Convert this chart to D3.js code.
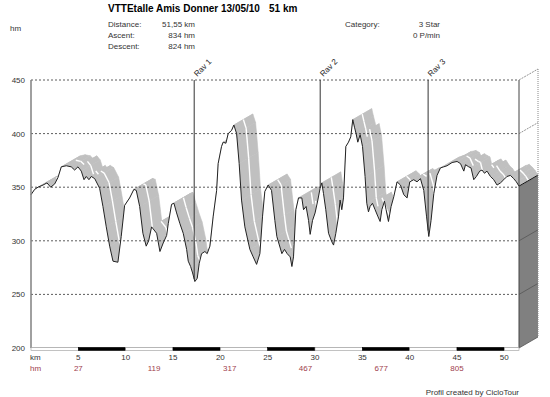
<!DOCTYPE html>
<html>
<head>
<meta charset="utf-8">
<script src="https://cdn.jsdelivr.net/npm/d3@7"></script>
<style>
  body { margin: 0; background: #fff; }
  svg { display: block; font-family: "Liberation Sans", Arial, sans-serif; }
</style>
</head>
<body>
<script>
// profile: distance (km) and altitude (m)
const km = [0, 0.39, 0.74, 1.27, 1.69, 2.08, 2.50, 2.85, 3.20, 3.73,
  4.25, 4.61, 4.96, 5.31, 5.60, 5.84, 6.12, 6.37, 6.73, 7.25,
  7.60, 7.95, 8.31, 8.66, 9.18, 9.53, 9.89, 10.42, 10.87, 11.12,
  11.48, 11.82, 12.17, 12.43, 12.74, 13.27, 13.62, 13.97, 14.33, 14.50,
  14.85, 15.10, 15.38, 15.73, 16.08, 16.44, 16.61, 16.86, 17.07, 17.31,
  17.56, 17.77, 18.02, 18.37, 18.61, 18.90, 19.25, 19.61, 19.77, 20.13,
  20.30, 20.59, 20.83, 21.19, 21.43, 21.72, 21.99, 22.24, 22.59, 23.12,
  23.47, 23.83, 24.18, 24.46, 24.70, 25.05, 25.41, 25.76, 25.97, 26.50,
  26.78, 27.06, 27.38, 27.56, 27.73, 27.98, 28.26, 28.61, 28.79, 29.06,
  29.32, 29.49, 29.74, 30.01, 30.30, 30.54, 30.72, 30.90, 31.14, 31.43,
  31.78, 31.96, 32.20, 32.49, 32.65, 32.83, 33.01, 33.26, 33.54, 33.78,
  33.99, 34.17, 34.34, 34.52, 34.77, 35.02, 35.29, 35.47, 35.65, 35.82,
  36.07, 36.35, 36.63, 36.88, 37.06, 37.34, 37.51, 37.76, 38.04, 38.32,
  38.67, 39.03, 39.38, 39.73, 40.01, 40.43, 40.78, 41.14, 41.49, 41.78,
  42.02, 42.26, 42.55, 42.89, 43.25, 43.60, 43.95, 44.48, 45.01, 45.37,
  45.72, 45.90, 46.24, 46.48, 46.77, 47.05, 47.40, 47.65, 47.90, 48.17,
  48.53, 48.88, 49.23, 49.59, 49.94, 50.28, 50.64, 50.99, 51.27, 51.55];
const elev = [343, 348, 350, 352, 354, 350, 353, 359, 369, 370,
  369, 366, 369, 365, 357, 360, 357, 360, 358, 349,
  332, 313, 295, 281, 280, 304, 333, 340, 348, 347,
  332, 307, 295, 300, 313, 307, 290, 298, 305, 316,
  334, 335, 326, 316, 307, 292, 281, 276, 270, 262,
  265, 279, 288, 290, 288, 295, 323, 347, 372, 388,
  392, 391, 400, 403, 408, 400, 372, 338, 313, 292,
  285, 278, 288, 323, 346, 352, 347, 319, 304, 288,
  292, 288, 285, 276, 285, 329, 340, 340, 329, 332,
  319, 306, 319, 326, 338, 349, 354, 344, 329, 307,
  299, 296, 307, 323, 338, 329, 340, 388, 392, 397,
  413, 406, 400, 392, 399, 388, 360, 335, 327, 332,
  335, 329, 323, 318, 329, 337, 329, 318, 332, 341,
  355, 352, 343, 340, 355, 357, 355, 358, 347, 323,
  304, 319, 344, 361, 368, 369, 370, 373, 374, 372,
  365, 371, 369, 368, 357, 360, 365, 366, 363, 365,
  360, 357, 352, 354, 357, 360, 361, 358, 355, 351];

const yTicks = [200, 250, 300, 350, 400, 450];
const kmTicks = [5, 10, 15, 20, 25, 30, 35, 40, 45, 50];
const barEdges = [0, 5, 10, 15, 20, 25, 30, 35, 40, 45, 50, 51.55];
const hmKm = [5, 13, 21, 29, 37, 45];
const hmLabels = ["27", "119", "317", "467", "677", "805"];
const ravNames = ["Rav 1", "Rav 2", "Rav 3"];
const ravKm = [17.24, 30.55, 41.95];

const W = 550, H = 397;
const pLeft = 31, pRight = 519, pTop = 80, pBottom = 348;
const depth = [19, -11]; // 3d offset of the back plane

const svg = d3.select("body").append("svg")
  .attr("width", W).attr("height", H);

const x = d3.scaleLinear().domain([0, 51.55]).range([pLeft, pRight]);
const y = d3.scaleLinear().domain([200, 450]).range([pBottom, pTop]);

const pts = km.map((k, i) => [x(k), y(elev[i])]);

// ribbon = the profile pushed back in depth
const ribbon = svg.append("g");
for (let i = 0; i < pts.length - 1; i++) {
  let a = pts[i], b = pts[i + 1];
  let quad = [a, b, [b[0] + depth[0], b[1] + depth[1]], [a[0] + depth[0], a[1] + depth[1]]];
  ribbon.append("polygon")
    .attr("points", quad.map(p => p.join(",")).join(" "))
    .attr("fill", "#c0c0c0")
    .attr("stroke", "#c0c0c0")
    .attr("stroke-width", 0.6);
}

// white seam in the middle of the descents
for (let i = 0; i < pts.length - 1; i++) {
  if (elev[i + 1] >= elev[i]) continue;
  let a = pts[i], b = pts[i + 1];
  ribbon.append("line")
    .attr("x1", a[0] + depth[0] / 2).attr("y1", a[1] + depth[1] / 2)
    .attr("x2", b[0] + depth[0] / 2).attr("y2", b[1] + depth[1] / 2)
    .attr("stroke", "#fff")
    .attr("stroke-width", 1.4);
}

// front face
let area = d3.area()
  .x((d, i) => x(km[i]))
  .y0(pBottom)
  .y1((d, i) => y(elev[i]));
svg.append("path")
  .datum(km)
  .attr("d", area)
  .attr("fill", "#fff");

// right side face
let endY = y(elev[elev.length - 1]);
svg.append("polygon")
  .attr("points", [[pRight, endY], [pRight + depth[0], endY + depth[1]],
    [pRight + depth[0], pBottom + depth[1]], [pRight, pBottom]].map(p => p.join(",")).join(" "))
  .attr("fill", "#808080");
svg.append("line")
  .attr("x1", pRight).attr("y1", endY)
  .attr("x2", pRight + depth[0]).attr("y2", endY + depth[1])
  .attr("stroke", "#111").attr("stroke-width", 1);

// grid lines
svg.selectAll(".grid")
  .data(yTicks.slice(1))
  .enter().append("line")
  .attr("x1", pLeft).attr("x2", pRight)
  .attr("y1", d => y(d)).attr("y2", d => y(d))
  .attr("stroke", "#333")
  .attr("stroke-width", 0.8)
  .attr("stroke-dasharray", "2,2");

svg.selectAll(".diag")
  .data(yTicks)
  .enter().append("line")
  .attr("x1", pRight).attr("x2", pRight + depth[0])
  .attr("y1", d => y(d)).attr("y2", d => y(d) + depth[1])
  .attr("stroke", d => d < 350 ? "#555" : "#777")
  .attr("stroke-width", 0.8)
  .attr("stroke-dasharray", d => d < 350 ? null : "2,1");

svg.append("line")
  .attr("x1", pRight + depth[0]).attr("x2", pRight + depth[0])
  .attr("y1", pTop + depth[1]).attr("y2", pBottom + depth[1])
  .attr("stroke", "#888")
  .attr("stroke-width", 1)
  .attr("stroke-dasharray", "1,1");

// profile line
svg.append("path")
  .datum(km)
  .attr("d", d3.line().x((d, i) => x(km[i])).y((d, i) => y(elev[i])))
  .attr("fill", "none")
  .attr("stroke", "#222")
  .attr("stroke-width", 1);

// passage points
let elevAt = d3.scaleLinear().domain(km).range(elev);
ravKm.forEach((k, i) => {
  svg.append("line")
    .attr("x1", x(k)).attr("x2", x(k))
    .attr("y1", pTop).attr("y2", y(elevAt(k)))
    .attr("stroke", "#333").attr("stroke-width", 1);
  svg.append("text")
    .attr("transform", "translate(" + (x(k) + 3) + "," + (pTop - 3) + ") rotate(-45)")
    .attr("font-size", "8px")
    .attr("fill", "#222")
    .text(ravNames[i]);
});

// frame
svg.append("line")
  .attr("x1", pLeft).attr("x2", pLeft).attr("y1", pTop).attr("y2", pBottom)
  .attr("stroke", "#808080").attr("stroke-width", 1.5);
svg.append("line")
  .attr("x1", pRight).attr("x2", pRight).attr("y1", pTop).attr("y2", pBottom)
  .attr("stroke", "#444").attr("stroke-width", 1);
svg.append("line")
  .attr("x1", pLeft).attr("x2", pRight).attr("y1", pBottom).attr("y2", pBottom)
  .attr("stroke", "#808080").attr("stroke-width", 1);

// km scale bar
for (let i = 0; i < barEdges.length - 1; i++) {
  svg.append("rect")
    .attr("x", x(barEdges[i]))
    .attr("y", pBottom - 0.5)
    .attr("width", x(barEdges[i + 1]) - x(barEdges[i]))
    .attr("height", 3)
    .attr("fill", i % 2 ? "#000" : "#fff")
    .attr("stroke", i % 2 ? "#000" : "#999")
    .attr("stroke-width", 0.6);
}

// y labels
svg.selectAll(".ylab")
  .data(yTicks)
  .enter().append("text")
  .attr("x", 25).attr("y", d => y(d) + 3)
  .attr("text-anchor", "end")
  .attr("font-size", "8px")
  .attr("fill", "#333")
  .text(d => d);

svg.append("text").attr("x", 10).attr("y", 31)
  .attr("font-size", "8px").attr("fill", "#333").text("hm");

// x labels
svg.append("text").attr("x", 30).attr("y", 359.5)
  .attr("font-size", "8px").attr("fill", "#333").text("km");
svg.selectAll(".xlab")
  .data(kmTicks)
  .enter().append("text")
  .attr("x", d => x(d)).attr("y", 359.5)
  .attr("text-anchor", "middle")
  .attr("font-size", "8px")
  .attr("fill", "#333")
  .text(d => d);

svg.append("text").attr("x", 30).attr("y", 370.5)
  .attr("font-size", "8px").attr("fill", "#a0404c").text("hm");
svg.selectAll(".hmlab")
  .data(hmKm)
  .enter().append("text")
  .attr("x", d => x(d)).attr("y", 370.5)
  .attr("text-anchor", "middle")
  .attr("font-size", "8px")
  .attr("fill", "#a0404c")
  .text((d, i) => hmLabels[i]);

// header
svg.append("text").attr("x", 108).attr("y", 12)
  .attr("font-size", "10px").attr("font-weight", "bold")
  .text("VTTEtalle Amis Donner 13/05/10");
svg.append("text").attr("x", 269).attr("y", 12)
  .attr("font-size", "10px").attr("font-weight", "bold")
  .text("51 km");

const info = [["Distance:", "51,55 km", 27], ["Ascent:", "834 hm", 38], ["Descent:", "824 hm", 49]];
info.forEach(r => {
  svg.append("text").attr("x", 108).attr("y", r[2])
    .attr("font-size", "8px").attr("fill", "#333").text(r[0]);
  svg.append("text").attr("x", 195).attr("y", r[2])
    .attr("text-anchor", "end")
    .attr("font-size", "8px").attr("fill", "#333").text(r[1]);
});
svg.append("text").attr("x", 345).attr("y", 27)
  .attr("font-size", "8px").attr("fill", "#333").text("Category:");
svg.append("text").attr("x", 440).attr("y", 27).attr("text-anchor", "end")
  .attr("font-size", "8px").attr("fill", "#333").text("3 Star");
svg.append("text").attr("x", 440).attr("y", 38).attr("text-anchor", "end")
  .attr("font-size", "8px").attr("fill", "#333").text("0 P/min");

svg.append("text").attr("x", 519).attr("y", 395).attr("text-anchor", "end")
  .attr("font-size", "8px").attr("fill", "#333").text("Profil created by CicloTour");
</script>
</body>
</html>
